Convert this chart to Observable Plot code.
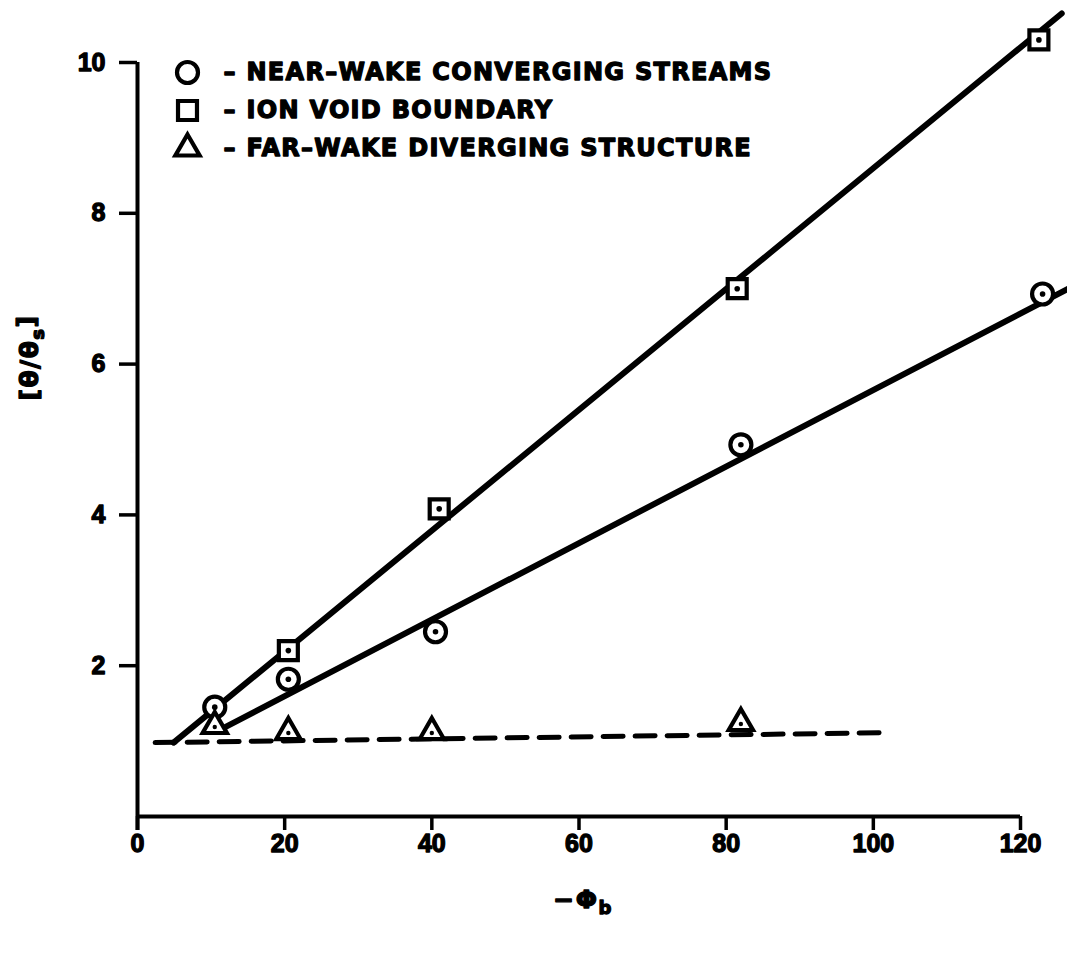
<!DOCTYPE html>
<html>
<head>
<meta charset="utf-8">
<script src="https://cdn.jsdelivr.net/npm/d3@7"></script>
<script src="https://cdn.jsdelivr.net/npm/@observablehq/plot@0.6"></script>
<style>
  html, body { margin: 0; padding: 0; background: #fff; }
  svg { display: block; }
  /* heavy, slightly smeared lettering */
  svg text { stroke: black; stroke-width: 1.3px; stroke-linejoin: round; }
</style>
</head>
<body>
<div id="chart"></div>
<script>
const FONT = "'Liberation Sans', Arial, Helvetica, sans-serif";
const WIDE_FONT = "'DejaVu Sans', 'Liberation Sans', sans-serif";

// Measured runs: bias potential (−Φb) against normalised angle θ/θs
const nearWakeX = [10.5, 20.5, 40.5, 82, 123];
const nearWakeY = [1.45, 1.82, 2.45, 4.93, 6.93];
const ionVoidX  = [20.5, 41, 81.5, 122.5];
const ionVoidY  = [2.2, 4.08, 7.0, 10.3];
const farWakeX  = [10.5, 20.5, 40, 82];
const farWakeY  = [1.2, 1.12, 1.12, 1.24];

// Hand-drawn fit lines (end points)
const nearWakeFitX = [11, 126.5];
const nearWakeFitY = [1.14, 7.0];
const ionVoidFitX  = [4.9, 125.6];
const ionVoidFitY  = [0.98, 10.65];
const farWakeFitX  = [2.4, 100.8];
const farWakeFitY  = [0.98, 1.11];

// Axis ticks and titles
const xTicks = [0, 20, 40, 60, 80, 100, 120];
const yTicks = [2, 4, 6, 8, 10];
const xTitle = ["−Φ", "b"];
const yTitle = ["[θ/θ", "s", "]"];

// Legend
const legendSymbols = ["circle", "square", "triangle"];
const legendLabels = [
  "– NEAR–WAKE CONVERGING STREAMS",
  "– ION VOID BOUNDARY",
  "– FAR–WAKE DIVERGING STRUCTURE"
];

const pts = (xs, ys) => xs.map((x, i) => ({x, y: ys[i]}));
const nearWake = pts(nearWakeX, nearWakeY);
const ionVoid = pts(ionVoidX, ionVoidY);
const farWake = pts(farWakeX, farWakeY);
const legend = legendLabels.map((label, i) => ({label, symbol: legendSymbols[i], row: i}));

const markerStroke = 4.2;
const symbolR = {circle: 10.5, square: 10.7, triangle: 9};
const rowGap = 38;

const chart = Plot.plot({
  width: 1067,
  height: 958,
  marginLeft: 137,
  marginRight: 47,
  marginTop: 62,
  marginBottom: 142,
  x: {domain: [0, 120]},
  y: {domain: [0, 10]},
  style: {fontFamily: FONT, fontSize: "25px", fontWeight: "bold", color: "black", background: "white"},
  marks: [
    // axes
    Plot.ruleY([0], {stroke: "black", strokeWidth: 4}),
    Plot.ruleX([0], {stroke: "black", strokeWidth: 4, insetBottom: -14}),
    Plot.axisX({ticks: xTicks, tickSize: 14, tickPadding: 4, strokeWidth: 3.5, fontSize: 25, fontWeight: "bold", label: null, tickFormat: d => d}),
    Plot.axisY({ticks: yTicks, tickSize: 18, tickPadding: 14, strokeWidth: 3.5, fontSize: 25, fontWeight: "bold", label: null, tickFormat: d => d}),

    // fit lines
    Plot.line(pts(ionVoidFitX, ionVoidFitY), {x: "x", y: "y", stroke: "black", strokeWidth: 6}),
    Plot.line(pts(nearWakeFitX, nearWakeFitY), {x: "x", y: "y", stroke: "black", strokeWidth: 6}),
    Plot.line(pts(farWakeFitX, farWakeFitY), {x: "x", y: "y", stroke: "black", strokeWidth: 5, strokeDasharray: "20,12"}),

    // data markers
    Plot.dot(ionVoid, {x: "x", y: "y", symbol: "square", r: symbolR.square, stroke: "black", strokeWidth: markerStroke, fill: "white"}),
    Plot.dot(nearWake, {x: "x", y: "y", symbol: "circle", r: symbolR.circle, stroke: "black", strokeWidth: markerStroke, fill: "white"}),
    Plot.dot(farWake, {x: "x", y: "y", symbol: "triangle", r: symbolR.triangle, stroke: "black", strokeWidth: markerStroke, fill: "white"}),
    Plot.dot([...ionVoid, ...nearWake], {x: "x", y: "y", r: 2.8, fill: "black"}),
    Plot.dot(farWake, {x: "x", y: "y", r: 2.2, fill: "black", dy: 1}),

    // legend
    ...legend.map(d => Plot.dot([d], {
      frameAnchor: "top-left", dx: 50, dy: 10 + d.row * rowGap,
      symbol: d.symbol, r: symbolR[d.symbol], stroke: "black", strokeWidth: markerStroke, fill: "white"
    })),
    ...legend.map(d => Plot.text([d], {
      frameAnchor: "top-left", dx: 86, dy: 10 + d.row * rowGap,
      text: "label", textAnchor: "start", lineAnchor: "middle",
      fontFamily: WIDE_FONT, fontSize: 24, fontWeight: "bold", fill: "black"
    })),

    // axis titles
    Plot.text([xTitle.join("")], {frameAnchor: "bottom", textAnchor: "middle", dx: 4, dy: 91, fontFamily: WIDE_FONT, fontSize: 25, fontWeight: "bold"}),
    Plot.text([yTitle.join("")], {frameAnchor: "left", textAnchor: "middle", lineAnchor: "middle", dx: -108, dy: -82, rotate: -90, fontFamily: WIDE_FONT, fontSize: 25, fontWeight: "bold"})
  ]
});

const texts = d3.select(chart).selectAll("text");

// slightly tracked legend lettering
texts.filter(function() { return legendLabels.includes(this.textContent); })
  .attr("letter-spacing", "1.3px");

// subscripts in the axis titles
function subscript(parts) {
  const full = parts.join("");
  const t = texts.filter(function() { return this.textContent === full; });
  t.attr("letter-spacing", "1.5px");
  t.text(null);
  t.append("tspan").text(parts[0]);
  t.append("tspan").attr("dy", "0.35em").attr("font-size", "0.72em").text(parts[1]);
  if (parts[2]) t.append("tspan").attr("dy", "-0.35em").text(parts[2]);
}
subscript(xTitle);
subscript(yTitle);

document.getElementById("chart").append(chart);
</script>
</body>
</html>
